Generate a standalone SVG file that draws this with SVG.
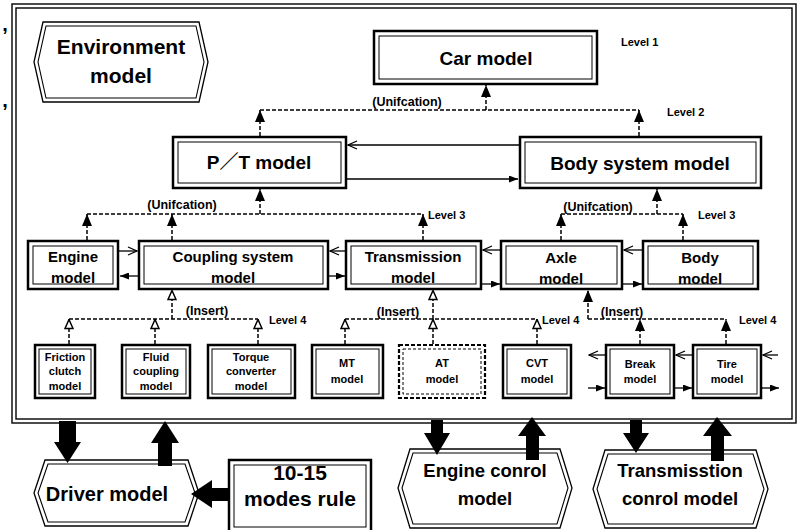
<svg xmlns="http://www.w3.org/2000/svg" width="800" height="530" viewBox="0 0 800 530">
  <defs>
    <style>
      .t { font-family: "Liberation Sans", "Noto Sans CJK JP", Arial, sans-serif; font-weight: bold; fill: #000; text-anchor: middle; }
      .big { font-size: 19px; }
      .mid { font-size: 15px; }
      .sm { font-size: 11px; }
      .lbl { font-size: 12.5px; }
      .lvl { font-size: 11px; text-anchor: start; }
      .box { fill: #fff; stroke: #000; stroke-width: 2.5; }
      .boxd { fill: #fff; stroke: #000; stroke-width: 2.2; stroke-dasharray: 4 2; }
      .inner { fill: none; stroke: #000; stroke-width: 1; }
      .innerd { fill: none; stroke: #000; stroke-width: 1; stroke-dasharray: 3 2; }
      .hex { fill: #fff; stroke: #000; stroke-width: 1.3; }
      .hexi { fill: none; stroke: #000; stroke-width: 1.1; }
      .frame { fill: none; stroke: #000; stroke-width: 1.4; }
      .dash { fill: none; stroke: #000; stroke-width: 1.5; stroke-dasharray: 4 2; }
      .line { fill: none; stroke: #000; stroke-width: 1.3; }
      .block { fill: #000; }
    </style>
    <!-- filled head for unification / solid data flow -->
    <marker id="uni" markerUnits="userSpaceOnUse" viewBox="0 0 12 10" refX="12" refY="5" markerWidth="12" markerHeight="10" orient="auto">
      <path d="M0,0 L12,5 L0,10 z" fill="#000"/>
    </marker>
    <!-- hollow head for insertion -->
    <marker id="ins" markerUnits="userSpaceOnUse" viewBox="-1 -1 11 10" refX="9.5" refY="4" markerWidth="11" markerHeight="10" orient="auto">
      <path d="M0,0 L9,4 L0,8 z" fill="#fff" stroke="#000" stroke-width="1.5"/>
    </marker>
    <!-- small filled head -->
    <marker id="solid" markerUnits="userSpaceOnUse" viewBox="0 0 9 7" refX="9" refY="3.5" markerWidth="9" markerHeight="7" orient="auto">
      <path d="M0,0 L9,3.5 L0,7 z" fill="#000"/>
    </marker>
    <!-- open V head -->
    <marker id="open" markerUnits="userSpaceOnUse" viewBox="-1 -1 11 10" refX="9" refY="4" markerWidth="11" markerHeight="10" orient="auto">
      <path d="M0,0 L9,4 L0,8" fill="none" stroke="#000" stroke-width="1.3"/>
    </marker>
  </defs>

  <rect x="0" y="0" width="800" height="530" fill="#fff"/>

  <!-- stray marks at the left margin -->
  <text class="t" x="5" y="31" style="font-size:20px">,</text>
  <text class="t" x="5" y="107" style="font-size:20px">,</text>

  <!-- vehicle model frame -->
  <g id="frame">
    <rect class="frame" x="12" y="4" width="784" height="419"/>
    <rect class="frame" x="16" y="8" width="776" height="411"/>
  </g>

  <g id="environment">
    <polygon class="hex" points="43,22 199,22 208,62 199,102 43,102 34,62"/>
    <polygon class="hexi" points="46,26 196,26 204,62 196,98 46,98 38,62"/>
    <text class="t" x="121" y="54" style="font-size:21px">Environment</text>
    <text class="t" x="121" y="83" style="font-size:21px">model</text>
  </g>

  <!-- Level 1 / 2 -->
  <g id="car">
    <rect class="box" x="374" y="31" width="223" height="53"/>
    <rect class="inner" x="379" y="36" width="213" height="43"/>
    <text class="t big" x="486" y="65">Car model</text>
  </g>
  <g id="pt">
    <rect class="box" x="173" y="137" width="173" height="51"/>
    <rect class="inner" x="178" y="142" width="163" height="41"/>
    <text class="t big" x="259" y="169">P／T model</text>
  </g>
  <g id="body-system">
    <rect class="box" x="520" y="137" width="241" height="51"/>
    <rect class="inner" x="525" y="142" width="231" height="41"/>
    <text class="t big" x="640" y="170">Body system model</text>
  </g>

  <!-- Level 3 -->
  <g id="engine">
    <rect class="box" x="28" y="241" width="90" height="48"/>
    <rect class="inner" x="33" y="246" width="80" height="38"/>
    <text class="t mid" x="73" y="262">Engine</text>
    <text class="t mid" x="73" y="283">model</text>
  </g>
  <g id="coupling">
    <rect class="box" x="139" y="241" width="189" height="48"/>
    <rect class="inner" x="144" y="246" width="179" height="38"/>
    <text class="t mid" x="233" y="262">Coupling system</text>
    <text class="t mid" x="233" y="283">model</text>
  </g>
  <g id="transmission">
    <rect class="box" x="346" y="241" width="135" height="48"/>
    <rect class="inner" x="351" y="246" width="125" height="38"/>
    <text class="t mid" x="413" y="262">Transmission</text>
    <text class="t mid" x="413" y="283">model</text>
  </g>
  <g id="axle">
    <rect class="box" x="501" y="241" width="121" height="48"/>
    <rect class="inner" x="506" y="246" width="111" height="38"/>
    <text class="t mid" x="561" y="263">Axle</text>
    <text class="t mid" x="561" y="284">model</text>
  </g>
  <g id="body">
    <rect class="box" x="643" y="241" width="115" height="48"/>
    <rect class="inner" x="648" y="246" width="105" height="38"/>
    <text class="t mid" x="700" y="263">Body</text>
    <text class="t mid" x="700" y="284">model</text>
  </g>

  <!-- Level 4 -->
  <g id="friction-clutch">
    <rect class="box" x="35" y="345" width="60" height="53"/>
    <rect class="inner" x="39" y="349" width="52" height="45"/>
    <text class="t sm" x="65" y="361">Friction</text>
    <text class="t sm" x="65" y="375">clutch</text>
    <text class="t sm" x="65" y="390">model</text>
  </g>
  <g id="fluid-coupling">
    <rect class="box" x="122" y="345" width="68" height="53"/>
    <rect class="inner" x="126" y="349" width="60" height="45"/>
    <text class="t sm" x="156" y="361">Fluid</text>
    <text class="t sm" x="156" y="375">coupling</text>
    <text class="t sm" x="156" y="390">model</text>
  </g>
  <g id="torque-converter">
    <rect class="box" x="208" y="345" width="87" height="53"/>
    <rect class="inner" x="212" y="349" width="79" height="45"/>
    <text class="t sm" x="251" y="361">Torque</text>
    <text class="t sm" x="251" y="375">converter</text>
    <text class="t sm" x="251" y="390">model</text>
  </g>
  <g id="mt">
    <rect class="box" x="312" y="345" width="71" height="53"/>
    <rect class="inner" x="316" y="349" width="63" height="45"/>
    <text class="t sm" x="347" y="367">MT</text>
    <text class="t sm" x="347" y="383">model</text>
  </g>
  <g id="at">
    <rect class="boxd" x="399" y="345" width="86" height="53"/>
    <rect class="innerd" x="403" y="349" width="78" height="45"/>
    <text class="t sm" x="442" y="367">AT</text>
    <text class="t sm" x="442" y="383">model</text>
  </g>
  <g id="cvt">
    <rect class="box" x="503" y="345" width="68" height="53"/>
    <rect class="inner" x="507" y="349" width="60" height="45"/>
    <text class="t sm" x="537" y="367">CVT</text>
    <text class="t sm" x="537" y="383">model</text>
  </g>
  <g id="break">
    <rect class="box" x="606" y="345" width="68" height="53"/>
    <rect class="inner" x="610" y="349" width="60" height="45"/>
    <text class="t sm" x="640" y="368">Break</text>
    <text class="t sm" x="640" y="383">model</text>
  </g>
  <g id="tire">
    <rect class="box" x="693" y="345" width="68" height="53"/>
    <rect class="inner" x="697" y="349" width="60" height="45"/>
    <text class="t sm" x="727" y="368">Tire</text>
    <text class="t sm" x="727" y="383">model</text>
  </g>

  <!-- external models -->
  <g id="driver">
    <polygon class="hex" points="45,460 188,460 199,493 188,526 45,526 34,493"/>
    <polygon class="hexi" points="48,464 185,464 195,493 185,522 48,522 38,493"/>
    <text class="t" x="107" y="501" style="font-size:20px">Driver model</text>
  </g>
  <g id="modes-rule">
    <rect class="box" x="229" y="460" width="142" height="72"/>
    <rect class="inner" x="234" y="465" width="132" height="62"/>
    <text class="t" x="300" y="480" style="font-size:21px">10-15</text>
    <text class="t" x="300" y="506" style="font-size:21px">modes rule</text>
  </g>
  <g id="engine-control">
    <polygon class="hex" points="410,449 560,449 572,488 560,528 410,528 398,488"/>
    <polygon class="hexi" points="413,453 557,453 568,488 557,524 413,524 402,488"/>
    <text class="t" x="485" y="477" style="font-size:18.5px">Engine conrol</text>
    <text class="t" x="485" y="505" style="font-size:18.5px">model</text>
  </g>
  <g id="transmission-control">
    <polygon class="hex" points="605,450 756,450 768,489 756,528 605,528 593,489"/>
    <polygon class="hexi" points="608,454 753,454 764,489 753,524 608,524 597,489"/>
    <text class="t" x="680" y="477" style="font-size:18.5px">Transmisstion</text>
    <text class="t" x="680" y="505" style="font-size:18.5px">conrol model</text>
  </g>

  <!-- level captions and relation labels -->
  <g id="labels">
    <text class="t lvl" x="621" y="46">Level 1</text>
    <text class="t lvl" x="667" y="116">Level 2</text>
    <text class="t lvl" x="428" y="219">Level 3</text>
    <text class="t lvl" x="698" y="219">Level 3</text>
    <text class="t lvl" x="269" y="324">Level 4</text>
    <text class="t lvl" x="542" y="324">Level 4</text>
    <text class="t lvl" x="739" y="324">Level 4</text>
    <text class="t lbl" x="407" y="106">(Unifcation)</text>
    <text class="t lbl" x="182" y="209">(Unifcation)</text>
    <text class="t lbl" x="598" y="211">(Unifcation)</text>
    <text class="t lbl" x="207" y="315">(Insert)</text>
    <text class="t lbl" x="398" y="316">(Insert)</text>
    <text class="t lbl" x="622" y="316">(Insert)</text>
  </g>

  <g id="connectors">
    <!-- unification into Car model -->
    <path class="dash" d="M260,110 H639"/>
    <path class="dash" d="M260,136 V110" marker-end="url(#uni)"/>
    <path class="dash" d="M639,136 V110" marker-end="url(#uni)"/>
    <path class="dash" d="M486,110 V85" marker-end="url(#uni)"/>

    <!-- unification into P/T model -->
    <path class="dash" d="M87,214 H423"/>
    <path class="dash" d="M87,240 V214" marker-end="url(#uni)"/>
    <path class="dash" d="M172,240 V214" marker-end="url(#uni)"/>
    <path class="dash" d="M423,240 V214" marker-end="url(#uni)"/>
    <path class="dash" d="M260,214 V189" marker-end="url(#uni)"/>

    <!-- unification into Body system model -->
    <path class="dash" d="M561,214 H683"/>
    <path class="dash" d="M561,240 V214" marker-end="url(#uni)"/>
    <path class="dash" d="M683,240 V214" marker-end="url(#uni)"/>
    <path class="dash" d="M657,214 V189" marker-end="url(#uni)"/>

    <!-- insertion into Coupling system model -->
    <path class="dash" d="M69,319 H258"/>
    <path class="dash" d="M69,344 V319" marker-end="url(#ins)"/>
    <path class="dash" d="M155,344 V319" marker-end="url(#ins)"/>
    <path class="dash" d="M258,344 V319" marker-end="url(#ins)"/>
    <path class="dash" d="M172,319 V290" marker-end="url(#ins)"/>

    <!-- insertion into Transmission model -->
    <path class="dash" d="M345,319 H537"/>
    <path class="dash" d="M345,344 V319" marker-end="url(#ins)"/>
    <path class="dash" d="M433,344 V319" marker-end="url(#ins)"/>
    <path class="dash" d="M537,344 V319" marker-end="url(#ins)"/>
    <path class="dash" d="M433,319 V290" marker-end="url(#ins)"/>

    <!-- insertion into Axle model -->
    <path class="dash" d="M588,319 H726"/>
    <path class="dash" d="M640,344 V319" marker-end="url(#uni)"/>
    <path class="dash" d="M726,344 V319" marker-end="url(#uni)"/>
    <path class="dash" d="M588,319 V290" marker-end="url(#uni)"/>

    <!-- P/T <-> Body system -->
    <path class="line" d="M519,145 H348" marker-end="url(#open)"/>
    <path class="line" d="M347,179 H518" marker-end="url(#solid)"/>

    <!-- Level 3 chain -->
    <path class="line" d="M119,251 H137" marker-end="url(#open)"/>
    <path class="line" d="M139,276 H120" marker-end="url(#solid)"/>
    <path class="line" d="M345,251 H330" marker-end="url(#open)"/>
    <path class="line" d="M329,276 H345" marker-end="url(#solid)"/>
    <path class="line" d="M500,250 H483" marker-end="url(#open)"/>
    <path class="line" d="M482,284 H500" marker-end="url(#solid)"/>
    <path class="line" d="M642,250 H624" marker-end="url(#open)"/>
    <path class="line" d="M623,284 H642" marker-end="url(#solid)"/>

    <!-- Break / Tire chain -->
    <path class="line" d="M605,355 H589" marker-end="url(#open)"/>
    <path class="line" d="M588,388 H605" marker-end="url(#solid)"/>
    <path class="line" d="M692,355 H676" marker-end="url(#open)"/>
    <path class="line" d="M675,388 H692" marker-end="url(#solid)"/>
    <path class="line" d="M778,355 H763" marker-end="url(#open)"/>
    <path class="line" d="M762,388 H779" marker-end="url(#solid)"/>

    <!-- block arrows between frame and external models -->
    <polygon class="block" points="59,421 76,421 76,442 81,442 67.5,463 54,442 59,442"/>
    <polygon class="block" points="158,466 172,466 172,443 179,443 165,421 151,443 158,443"/>
    <polygon class="block" points="229,488 212,488 212,480 191,494 212,508 212,501 229,501"/>
    <polygon class="block" points="431,420 443,420 443,433 450,433 437,455 424,433 431,433"/>
    <polygon class="block" points="526,460 539,460 539,436 546,436 532,417 518,436 526,436"/>
    <polygon class="block" points="630,420 642,420 642,433 649,433 636,453 623,433 630,433"/>
    <polygon class="block" points="711,461 724,461 724,436 732,436 717,417 703,436 711,436"/>
  </g>
</svg>
